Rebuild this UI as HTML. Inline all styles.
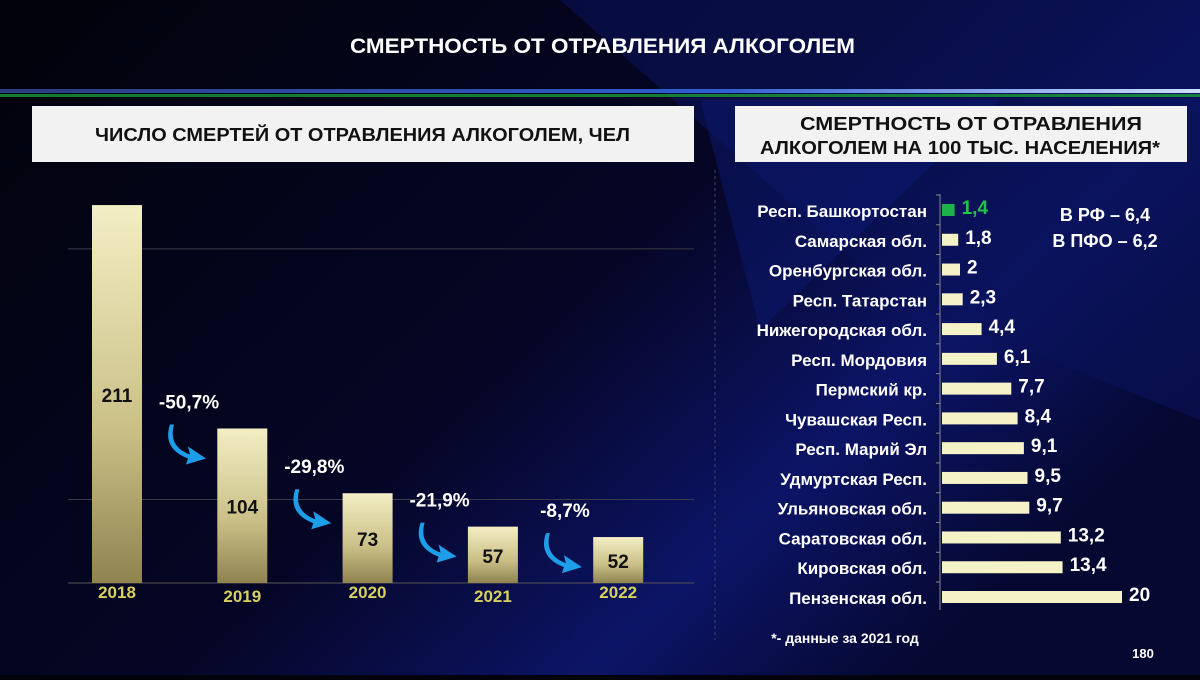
<!DOCTYPE html>
<html><head><meta charset="utf-8"><style>
body{margin:0;width:1200px;height:675px;overflow:hidden;background:#03030c;font-family:"Liberation Sans",sans-serif}
svg text{font-family:"Liberation Sans",sans-serif;font-weight:bold}
</style></head><body>
<svg width="1200" height="675">
<defs>
<linearGradient id="bg" x1="0" y1="0" x2="1" y2="0.6"><stop offset="0" stop-color="#02020a"/><stop offset="0.55" stop-color="#050626"/><stop offset="0.8" stop-color="#0c1466"/><stop offset="1" stop-color="#050830"/></linearGradient>
<linearGradient id="bar" x1="0" y1="0" x2="0" y2="1"><stop offset="0" stop-color="#f3eec4"/><stop offset="0.6" stop-color="#c9bf86"/><stop offset="1" stop-color="#8f8350"/></linearGradient>
<linearGradient id="line" x1="0" x2="1"><stop offset="0" stop-color="#2b3c80"/><stop offset="0.6" stop-color="#2f5fd0"/><stop offset="1" stop-color="#cfe0ff"/></linearGradient>
</defs>
<rect width="1200" height="675" fill="url(#bg)"/>
<polygon points="560,0 1200,0 1200,420 900,300" fill="#0a1258" opacity="0.6"/>
<polygon points="700,100 1000,100 760,330" fill="#0c1870" opacity="0.5"/>
<text x="350" y="53" fill="#fff" font-size="21" textLength="505" lengthAdjust="spacingAndGlyphs">СМЕРТНОСТЬ ОТ ОТРАВЛЕНИЯ АЛКОГОЛЕМ</text>
<rect x="0" y="89" width="1200" height="4" fill="url(#line)"/>
<rect x="0" y="94" width="1200" height="3" fill="#1a9a3a" opacity="0.8"/>
<rect x="32" y="106" width="662" height="56" fill="#f2f2f2"/>
<text x="95" y="141" fill="#111" font-size="18" textLength="535" lengthAdjust="spacingAndGlyphs">ЧИСЛО СМЕРТЕЙ ОТ ОТРАВЛЕНИЯ АЛКОГОЛЕМ, ЧЕЛ</text>
<rect x="735" y="106" width="452" height="56" fill="#f2f2f2"/>
<text x="800" y="130" fill="#111" font-size="18" textLength="342" lengthAdjust="spacingAndGlyphs">СМЕРТНОСТЬ ОТ ОТРАВЛЕНИЯ</text>
<text x="760" y="154" fill="#111" font-size="18" textLength="400" lengthAdjust="spacingAndGlyphs">АЛКОГОЛЕМ НА 100 ТЫС. НАСЕЛЕНИЯ*</text>
<line x1="715" y1="170" x2="715" y2="640" stroke="#445" stroke-dasharray="3,3"/>
<g id="left"></g>
<g id="right"></g>
<text x="845" y="643" fill="#fff" font-size="14" text-anchor="middle">*- данные за 2021 год</text>
<text x="1143" y="658" fill="#fff" font-size="13" text-anchor="middle">180</text>
<text x="1105" y="221" fill="#fff" font-size="18" text-anchor="middle">В РФ – 6,4</text>
<text x="1105" y="247" fill="#fff" font-size="18" text-anchor="middle">В ПФО – 6,2</text>
</svg>
<script>
const years=["2018","2019","2020","2021","2022"];
const deaths=[211,104,73,57,52];
const changes=["-50,7%","-29,8%","-21,9%","-8,7%"];
const gridVals=[70,190];
const regions=["Респ. Башкортостан","Самарская обл.","Оренбургская обл.","Респ. Татарстан","Нижегородская обл.","Респ. Мордовия","Пермский кр.","Чувашская Респ.","Респ. Марий Эл","Удмуртская Респ.","Ульяновская обл.","Саратовская обл.","Кировская обл.","Пензенская обл."];
const rates=[1.4,1.8,2,2.3,4.4,6.1,7.7,8.4,9.1,9.5,9.7,13.2,13.4,20];
const rateLabels=["1,4","1,8","2","2,3","4,4","6,1","7,7","8,4","9,1","9,5","9,7","13,2","13,4","20"];
const NS="http://www.w3.org/2000/svg";
function mk(t,a,p){const e=document.createElementNS(NS,t);for(const k in a)e.setAttribute(k,a[k]);p.appendChild(e);return e;}
const L=document.getElementById('left');
const base=583,vmin=30,k=2.088;
const yL=v=>base-(v-vmin)*k;
const xL=i=>92+i*125.3;
gridVals.forEach(g=>{const l=mk('line',{x1:68,x2:694,y1:yL(g),y2:yL(g),stroke:'#3a3a48'},L);

});
mk('line',{x1:68,x2:694,y1:base,y2:base,stroke:'#555'},L);
deaths.forEach((v,i)=>{
 const r=mk('rect',{x:xL(i),y:yL(v),width:50,height:base-yL(v),fill:'url(#bar)'},L);
 
 
 const ty=i==0?402:Math.min(yL(v)+(base-yL(v))/2+8,base-15);
 const t=mk('text',{x:xL(i)+25,y:ty,fill:'#111','font-size':19,'text-anchor':'middle'},L);t.textContent=v;
 
 
 const yt=mk('text',{x:xL(i)+25,y:i%2?602:598,fill:'#d8d060','font-size':17,'text-anchor':'middle'},L);yt.textContent=years[i];
 
 
});
changes.forEach((c,i)=>{
 const ny=yL(deaths[i+1]);
 const cx=xL(i)+72;
 const t=mk('text',{x:cx+25,y:ny-20,fill:'#fff','font-size':19,'text-anchor':'middle'},L);t.textContent=c;
 
 
 const a=mk('path',{d:`M${cx+10} ${ny-4} q-6 22 16 30 l-2 -8 l18 12 l-20 6 l2 -6 q-26 -10 -18 -34z`,fill:'#1e9ee8'},L);
 
 
});
const R=document.getElementById('right');
const x0=942,s=9,r0=210,dr=29.77;
const yR=i=>r0+i*dr;
const ax=mk('line',{x1:940,x2:940,y1:194,y2:610,stroke:'#888'},R);


regions.forEach((n,i)=>{
 const y=yR(i);
 mk('line',{x1:936,x2:940,y1:y-15,y2:y-15,stroke:'#888'},R);
 const r=mk('rect',{x:x0,y:y-6,width:rates[i]*s,height:12,fill:i==0?'#1db34a':'#f5f2c8'},R);
 
 
 const t=mk('text',{x:927,y:y+7,fill:'#fff','font-size':17,'text-anchor':'end'},R);t.textContent=n;
 
 
 const v=mk('text',{x:x0+rates[i]*s+7,y:y+4,fill:i==0?'#22c24f':'#fff','font-size':19},R);v.textContent=rateLabels[i];
 
 
});
</script>
</body></html>
